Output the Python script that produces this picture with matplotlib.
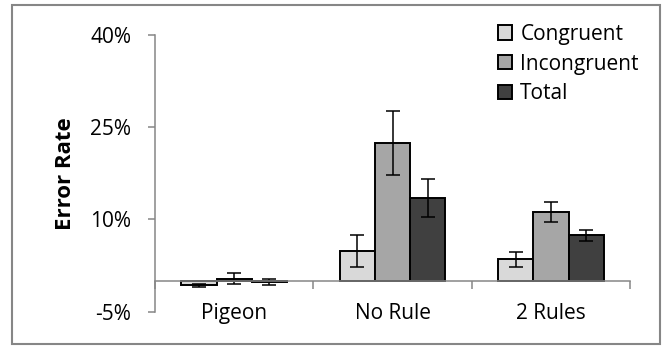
import numpy as np
import matplotlib
matplotlib.use("Agg")
import matplotlib.pyplot as plt
from matplotlib.patches import Rectangle
from matplotlib.ticker import FuncFormatter, FixedLocator

plt.rcParams['font.family'] = ['Open Sans', 'DejaVu Sans']

# data (error rate in %)
groups = ['Pigeon', 'No Rule', '2 Rules']
series = ['Congruent', 'Incongruent', 'Total']
congruent = [-0.7, 4.8, 3.5]
congruent_err = [0.25, 2.6, 1.25]
incongruent = [0.4, 22.4, 11.2]
incongruent_err = [0.9, 5.2, 1.6]
total = [-0.1, 13.5, 7.4]
total_err = [0.5, 3.1, 0.95]
y_ticks = [-5, 10, 25, 40]

colors = ['#D9D9D9', '#A6A6A6', '#404040']
gray = '#868686'
fs = 15

fig = plt.figure(figsize=(6.62, 3.46), dpi=100)
ax = fig.add_axes([0.234, 0.099, 0.718, 0.800])

x = np.arange(len(groups))
w = 0.222
vals = [congruent, incongruent, total]
errs = [congruent_err, incongruent_err, total_err]
for i, (v, e) in enumerate(zip(vals, errs)):
    ax.bar(x + (i - 1) * w, v, w, color=colors[i], edgecolor='black', linewidth=1.4,
           label=series[i], zorder=2,
           yerr=e, error_kw=dict(ecolor='black', elinewidth=1.1, capsize=4.8, capthick=1.1))

ax.set_xlim(-0.5, 2.5)
ax.set_ylim(-5, 40)
ax.yaxis.set_major_locator(FixedLocator(y_ticks))
ax.yaxis.set_major_formatter(FuncFormatter(lambda v, p: f'{v:.0f}%'))

for s in ['top', 'right']:
    ax.spines[s].set_visible(False)
ax.spines['left'].set_color(gray)
ax.spines['left'].set_linewidth(1.1)
ax.spines['bottom'].set_color(gray)
ax.spines['bottom'].set_linewidth(1.1)
ax.spines['bottom'].set_position(('data', 0))

ax.set_xticks(x)
ax.set_xticklabels(groups)
ax.set_xticks([-0.5, 0.5, 1.5, 2.5], minor=True)
ax.tick_params(axis='x', which='major', length=0, pad=16, labelsize=fs, colors='black')
ax.tick_params(axis='x', which='minor', length=6, width=1.1, color=gray, direction='out')
ax.tick_params(axis='y', length=5, width=1.1, color=gray, pad=12, labelsize=fs)

ax.set_ylabel('Error Rate', fontsize=16, fontweight='bold', labelpad=10)

fig.legend(loc='upper left', bbox_to_anchor=(0.752, 0.931), frameon=False, fontsize=fs,
           handlelength=0.68, handleheight=0.68, handletextpad=0.4, labelspacing=0.42,
           borderpad=0, borderaxespad=0)

fig.patches.append(Rectangle((0.018, 0.006), 0.979, 0.98, transform=fig.transFigure,
                             fill=False, edgecolor=gray, linewidth=1.5))

fig.savefig('out.png', dpi=100)
